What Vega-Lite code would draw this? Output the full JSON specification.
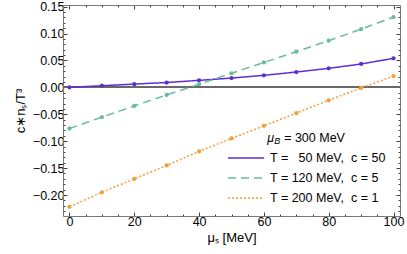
{
  "$schema": "https://vega.github.io/schema/vega-lite/v6.json",
  "width": 337,
  "height": 211,
  "autosize": {"type": "none"},
  "padding": {"left": 63, "top": 5, "right": 7, "bottom": 38},
  "config": {
    "view": {"stroke": null},
    "font": "Liberation Sans",
    "axis": {
      "grid": false,
      "domainColor": "#7a7a7a",
      "domainWidth": 1,
      "tickColor": "#444444",
      "labelFont": "Liberation Sans",
      "labelFontSize": 12.5,
      "labelColor": "#000000",
      "titleFont": "Liberation Sans",
      "titleFontSize": 13,
      "titleFontWeight": "normal",
      "titleColor": "#000000"
    }
  },
  "data": {
    "values": [
      {"series": "T = \u200750 MeV,\u00a0 c = 50", "muS": 0, "val": 0.0},
      {"series": "T = \u200750 MeV,\u00a0 c = 50", "muS": 10, "val": 0.003},
      {"series": "T = \u200750 MeV,\u00a0 c = 50", "muS": 20, "val": 0.006},
      {"series": "T = \u200750 MeV,\u00a0 c = 50", "muS": 30, "val": 0.009},
      {"series": "T = \u200750 MeV,\u00a0 c = 50", "muS": 40, "val": 0.013},
      {"series": "T = \u200750 MeV,\u00a0 c = 50", "muS": 50, "val": 0.0173},
      {"series": "T = \u200750 MeV,\u00a0 c = 50", "muS": 60, "val": 0.0223},
      {"series": "T = \u200750 MeV,\u00a0 c = 50", "muS": 70, "val": 0.0285},
      {"series": "T = \u200750 MeV,\u00a0 c = 50", "muS": 80, "val": 0.0353},
      {"series": "T = \u200750 MeV,\u00a0 c = 50", "muS": 90, "val": 0.0434},
      {"series": "T = \u200750 MeV,\u00a0 c = 50", "muS": 100, "val": 0.0539},
      {"series": "T = 120 MeV,\u00a0 c = 5", "muS": 0, "val": -0.0765},
      {"series": "T = 120 MeV,\u00a0 c = 5", "muS": 10, "val": -0.0553},
      {"series": "T = 120 MeV,\u00a0 c = 5", "muS": 20, "val": -0.0345},
      {"series": "T = 120 MeV,\u00a0 c = 5", "muS": 30, "val": -0.014},
      {"series": "T = 120 MeV,\u00a0 c = 5", "muS": 40, "val": 0.0058},
      {"series": "T = 120 MeV,\u00a0 c = 5", "muS": 50, "val": 0.0262},
      {"series": "T = 120 MeV,\u00a0 c = 5", "muS": 60, "val": 0.0462},
      {"series": "T = 120 MeV,\u00a0 c = 5", "muS": 70, "val": 0.0662},
      {"series": "T = 120 MeV,\u00a0 c = 5", "muS": 80, "val": 0.0868},
      {"series": "T = 120 MeV,\u00a0 c = 5", "muS": 90, "val": 0.1082},
      {"series": "T = 120 MeV,\u00a0 c = 5", "muS": 100, "val": 0.1305},
      {"series": "T = 200 MeV,\u00a0 c = 1", "muS": 0, "val": -0.222},
      {"series": "T = 200 MeV,\u00a0 c = 1", "muS": 10, "val": -0.195},
      {"series": "T = 200 MeV,\u00a0 c = 1", "muS": 20, "val": -0.170},
      {"series": "T = 200 MeV,\u00a0 c = 1", "muS": 30, "val": -0.145},
      {"series": "T = 200 MeV,\u00a0 c = 1", "muS": 40, "val": -0.119},
      {"series": "T = 200 MeV,\u00a0 c = 1", "muS": 50, "val": -0.095},
      {"series": "T = 200 MeV,\u00a0 c = 1", "muS": 60, "val": -0.0715},
      {"series": "T = 200 MeV,\u00a0 c = 1", "muS": 70, "val": -0.048},
      {"series": "T = 200 MeV,\u00a0 c = 1", "muS": 80, "val": -0.024},
      {"series": "T = 200 MeV,\u00a0 c = 1", "muS": 90, "val": -0.001},
      {"series": "T = 200 MeV,\u00a0 c = 1", "muS": 100, "val": 0.021}
    ]
  },
  "resolve": {"axis": {"x": "independent", "y": "independent"}},
  "layer": [
    {
      "mark": {"type": "rule", "color": "#6a6a6a", "strokeWidth": 0.7},
      "encoding": {
        "y": {
          "datum": 0,
          "type": "quantitative",
          "scale": {"domain": [-0.239, 0.153], "nice": false, "zero": false},
          "axis": {"orient": "right", "values": [-0.2, -0.15, -0.1, -0.05, 0, 0.05, 0.1, 0.15], "labels": false, "tickSize": -4, "title": null, "domain": true}
        }
      }
    },
    {
      "mark": {"type": "line", "strokeWidth": 1.5, "point": {"filled": true, "size": 18}},
      "encoding": {
        "x": {
          "field": "muS",
          "type": "quantitative",
          "scale": {"domain": [-2, 102], "nice": false, "zero": false},
          "axis": {"orient": "bottom", "values": [0, 20, 40, 60, 80, 100], "tickSize": -4, "labelPadding": 3, "title": "μₛ [MeV]", "titlePadding": 4}
        },
        "y": {
          "field": "val",
          "type": "quantitative",
          "scale": {"domain": [-0.239, 0.153], "nice": false, "zero": false},
          "axis": {"orient": "left", "values": [-0.2, -0.15, -0.1, -0.05, 0, 0.05, 0.1, 0.15], "format": ".2f", "tickSize": -4, "labelPadding": 3, "title": "c∗nₛ/T³", "titlePadding": 5}
        },
        "color": {
          "field": "series",
          "type": "nominal",
          "scale": {
            "domain": ["T = \u200750 MeV,\u00a0 c = 50", "T = 120 MeV,\u00a0 c = 5", "T = 200 MeV,\u00a0 c = 1"],
            "range": ["#5b2fd1", "#68bc9c", "#f0a03a"]
          },
          "legend": {
            "orient": "none", "legendX": 164, "legendY": 146,
            "title": null,
            "labelFont": "Liberation Sans", "labelFontSize": 12.5, "labelColor": "#000000", "labelOffset": 5,
            "symbolType": "stroke", "symbolSize": 1296, "symbolStrokeWidth": 1.5, "rowPadding": 6, "clipHeight": 14
          }
        },
        "strokeDash": {
          "field": "series",
          "type": "nominal",
          "scale": {
            "domain": ["T = \u200750 MeV,\u00a0 c = 50", "T = 120 MeV,\u00a0 c = 5", "T = 200 MeV,\u00a0 c = 1"],
            "range": [[1, 0], [8, 5], [2, 2]]
          },
          "legend": {
            "orient": "none", "legendX": 164, "legendY": 146,
            "title": null,
            "labelFont": "Liberation Sans", "labelFontSize": 12.5, "labelColor": "#000000", "labelOffset": 5,
            "symbolType": "stroke", "symbolSize": 1296, "symbolStrokeWidth": 1.5, "rowPadding": 6, "clipHeight": 14
          }
        }
      }
    },
    {
      "data": {"values": [{}]},
      "mark": {"type": "text", "text": "μ", "fontStyle": "italic", "fontSize": 12.5, "align": "left", "baseline": "middle", "color": "#000000"},
      "encoding": {
        "x": {"datum": 61, "type": "quantitative", "scale": {"domain": [-2, 102], "nice": false, "zero": false}, "axis": null},
        "y": {"datum": -0.094, "type": "quantitative", "scale": {"domain": [-0.239, 0.153], "nice": false, "zero": false}, "axis": null}
      }
    },
    {
      "data": {"values": [{}]},
      "mark": {"type": "text", "text": "B", "fontStyle": "italic", "fontSize": 9, "align": "left", "baseline": "middle", "dx": 7, "dy": 3, "color": "#000000"},
      "encoding": {
        "x": {"datum": 61, "type": "quantitative", "scale": {"domain": [-2, 102], "nice": false, "zero": false}, "axis": null},
        "y": {"datum": -0.094, "type": "quantitative", "scale": {"domain": [-0.239, 0.153], "nice": false, "zero": false}, "axis": null}
      }
    },
    {
      "data": {"values": [{}]},
      "mark": {"type": "text", "text": "= 300 MeV", "fontSize": 12.5, "align": "left", "baseline": "middle", "dx": 17, "color": "#000000"},
      "encoding": {
        "x": {"datum": 61, "type": "quantitative", "scale": {"domain": [-2, 102], "nice": false, "zero": false}, "axis": null},
        "y": {"datum": -0.094, "type": "quantitative", "scale": {"domain": [-0.239, 0.153], "nice": false, "zero": false}, "axis": null}
      }
    },
    {
      "mark": {"type": "point", "opacity": 0},
      "encoding": {
        "x": {
          "field": "muS", "type": "quantitative",
          "scale": {"domain": [-2, 102], "nice": false, "zero": false},
          "axis": {"orient": "top", "values": [0, 20, 40, 60, 80, 100], "labels": false, "tickSize": -4, "title": null, "domain": true}
        },
        "y": {
          "field": "val", "type": "quantitative",
          "scale": {"domain": [-0.239, 0.153], "nice": false, "zero": false},
          "axis": {"orient": "left", "values": [-0.23, -0.22, -0.21, -0.19, -0.18, -0.17, -0.16, -0.14, -0.13, -0.12, -0.11, -0.09, -0.08, -0.07, -0.06, -0.04, -0.03, -0.02, -0.01, 0.01, 0.02, 0.03, 0.04, 0.06, 0.07, 0.08, 0.09, 0.11, 0.12, 0.13, 0.14], "labels": false, "tickSize": -2, "title": null, "domain": false}
        }
      }
    },
    {
      "mark": {"type": "point", "opacity": 0},
      "encoding": {
        "x": {
          "field": "muS", "type": "quantitative",
          "scale": {"domain": [-2, 102], "nice": false, "zero": false},
          "axis": {"orient": "bottom", "values": [5, 10, 15, 25, 30, 35, 45, 50, 55, 65, 70, 75, 85, 90, 95], "labels": false, "tickSize": -2, "title": null, "domain": false}
        },
        "y": {
          "field": "val", "type": "quantitative",
          "scale": {"domain": [-0.239, 0.153], "nice": false, "zero": false},
          "axis": {"orient": "right", "values": [-0.23, -0.22, -0.21, -0.19, -0.18, -0.17, -0.16, -0.14, -0.13, -0.12, -0.11, -0.09, -0.08, -0.07, -0.06, -0.04, -0.03, -0.02, -0.01, 0.01, 0.02, 0.03, 0.04, 0.06, 0.07, 0.08, 0.09, 0.11, 0.12, 0.13, 0.14], "labels": false, "tickSize": -2, "title": null, "domain": false}
        }
      }
    },
    {
      "mark": {"type": "point", "opacity": 0},
      "encoding": {
        "x": {
          "field": "muS", "type": "quantitative",
          "scale": {"domain": [-2, 102], "nice": false, "zero": false},
          "axis": {"orient": "top", "values": [5, 10, 15, 25, 30, 35, 45, 50, 55, 65, 70, 75, 85, 90, 95], "labels": false, "tickSize": -2, "title": null, "domain": false}
        }
      }
    }
  ]
}
